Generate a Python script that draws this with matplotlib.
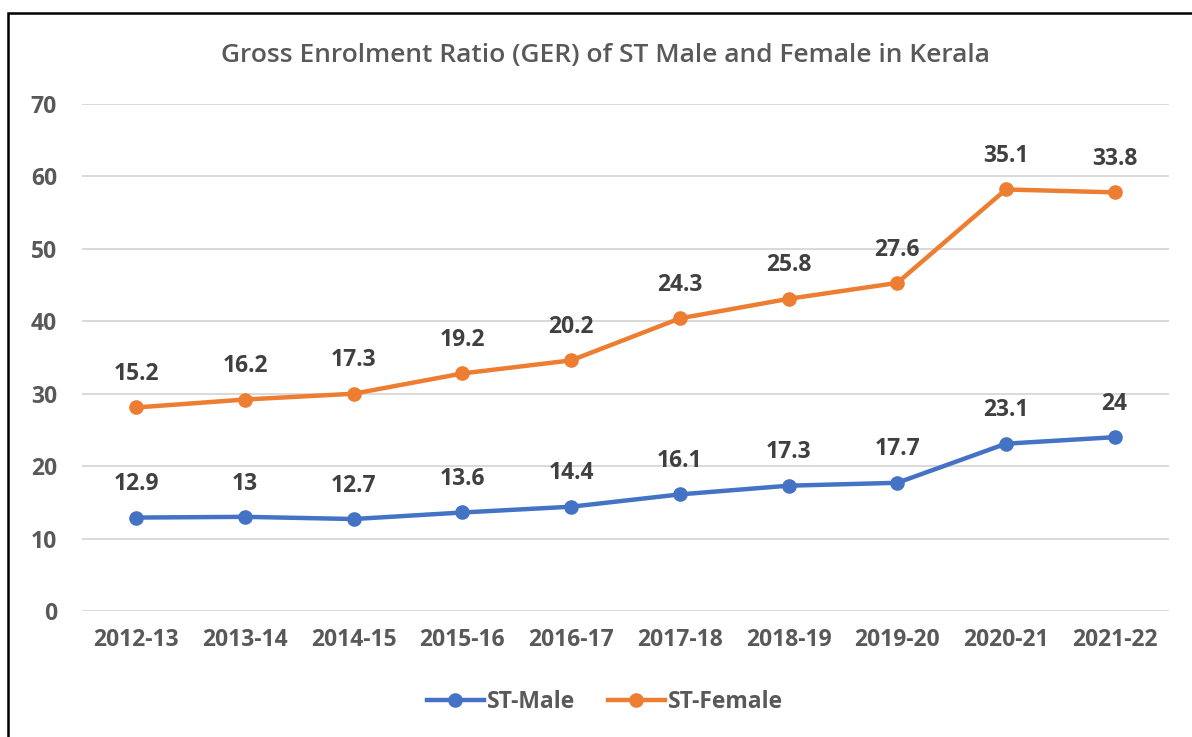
import matplotlib
matplotlib.use("Agg")
import matplotlib.pyplot as plt
from matplotlib.patches import Rectangle
import numpy as np

years = ["2012-13", "2013-14", "2014-15", "2015-16", "2016-17",
         "2017-18", "2018-19", "2019-20", "2020-21", "2021-22"]
st_male = [12.9, 13, 12.7, 13.6, 14.4, 16.1, 17.3, 17.7, 23.1, 24]
st_female = [15.2, 16.2, 17.3, 19.2, 20.2, 24.3, 25.8, 27.6, 35.1, 33.8]

plt.rcParams['font.family'] = ['Open Sans', 'DejaVu Sans']

W, H = 1192, 737
fig = plt.figure(figsize=(W / 100, H / 100), dpi=100)
ax = fig.add_axes([82 / W, 1 - 611 / H, (1169 - 82) / W, (611 - 104) / H])

x = np.arange(len(years))
male = np.array(st_male)
female_stacked = male + np.array(st_female)

blue = "#4472C4"
orange = "#ED7D31"
txt = "#595959"
lab_col = "#404040"
fs = 16.5

ax.plot(x, male, color=blue, lw=3.2, marker="o", ms=9.5, label="ST-Male", zorder=3)
ax.plot(x, female_stacked, color=orange, lw=3.2, marker="o", ms=9.5, label="ST-Female", zorder=3)

for xi, yi, v in zip(x, male, st_male):
    ax.annotate(f"{v:g}", (xi, yi), xytext=(0, 24), textcoords="offset points",
                ha="center", va="center", fontsize=fs, fontweight="bold", color=lab_col)
for xi, yi, v in zip(x, female_stacked, st_female):
    ax.annotate(f"{v:g}", (xi, yi), xytext=(0, 24), textcoords="offset points",
                ha="center", va="center", fontsize=fs, fontweight="bold", color=lab_col)

ax.set_xlim(-0.5, len(years) - 0.5)
ax.set_ylim(0, 70)
ax.set_yticks(range(0, 71, 10))
ax.set_xticks(x)
ax.set_xticklabels(years)
ax.grid(axis="y", color="#D9D9D9", lw=1.4)
ax.set_axisbelow(True)
for s in ax.spines.values():
    s.set_visible(False)
ax.tick_params(length=0, labelsize=fs, labelcolor=txt)
ax.tick_params(axis="x", pad=12)
ax.tick_params(axis="y", pad=18)
for lab in ax.get_xticklabels() + ax.get_yticklabels():
    lab.set_fontweight("bold")

fig.text(605 / W, 1 - 55 / H, "Gross Enrolment Ratio (GER) of ST Male and Female in Kerala",
         ha="center", va="center", fontsize=19, fontweight="semibold", color=txt)

leg = fig.legend(loc="center", bbox_to_anchor=(605 / W, 1 - 702 / H), ncol=2, frameon=False,
                 fontsize=fs, handlelength=2.5, columnspacing=1.4, handletextpad=0.15,
                 borderpad=0, borderaxespad=0)
for t in leg.get_texts():
    t.set_color(txt)
    t.set_fontweight("bold")

fig.patches.append(Rectangle((8 / W, -0.1), 1.5, 1 - 13 / H + 0.1, transform=fig.transFigure,
                             fill=False, edgecolor="black", lw=1.8))

fig.savefig("out.png", dpi=100)
